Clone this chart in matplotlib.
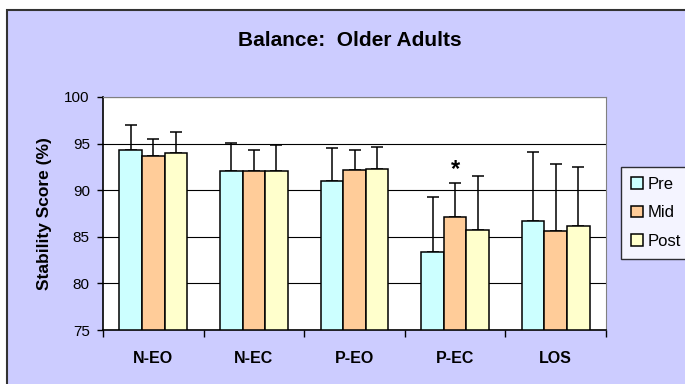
import matplotlib
matplotlib.use("Agg")
import matplotlib.pyplot as plt
import numpy as np
from matplotlib.patches import Rectangle

categories = ["N-EO", "N-EC", "P-EO", "P-EC", "LOS"]
series = ["Pre", "Mid", "Post"]
pre = [94.3, 92.05, 90.97, 83.4, 86.65]
mid = [93.7, 92.05, 92.2, 87.1, 85.6]
post = [94.0, 92.05, 92.3, 85.75, 86.2]
pre_err = [2.7, 3.05, 3.6, 5.9, 7.45]
mid_err = [1.8, 2.25, 2.1, 3.7, 7.2]
post_err = [2.2, 2.75, 2.3, 5.75, 6.3]
colors = ["#CCFFFF", "#FFCC99", "#FFFFCC"]
yticks = [75, 80, 85, 90, 95, 100]

plt.rcParams['font.family'] = ['Liberation Sans', 'DejaVu Sans']

fig = plt.figure(figsize=(6.85, 3.84), dpi=100)
fig.patch.set_facecolor("white")
frame = Rectangle((7/685, -0.05), 1.2, 1 - 10/384 + 0.05, transform=fig.transFigure,
                  facecolor="#CCCCFF", edgecolor="#333333", lw=1.5, zorder=-10)
fig.patches.append(frame)

ax = fig.add_axes([103/685, 1-330/384, (606-103)/685, (330-97)/384])
ax.set_zorder(1)
ax.set_facecolor("white")

x = np.arange(len(categories))
w = 0.224
vals = [pre, mid, post]
errs = [pre_err, mid_err, post_err]
for i, (v, e) in enumerate(zip(vals, errs)):
    pos = x + (i-1)*w
    ax.bar(pos, np.array(v)-75, bottom=75, width=w, color=colors[i], edgecolor="black",
           lw=1.1, label=series[i], zorder=3)
    ax.errorbar(pos, v, yerr=[np.zeros(len(e)), e], fmt="none", ecolor="black",
                elinewidth=1.1, capsize=4.5, capthick=1.1, zorder=2)

ax.text(3, 91.0, "*", ha="center", va="bottom", fontsize=17, fontweight="bold")

ax.set_ylim(75, 100)
ax.set_xlim(-0.5, 4.5)
ax.set_yticks(yticks)
ax.set_yticklabels([str(t) for t in yticks], fontsize=11)
ax.set_xticks(np.arange(-0.5, 5, 1))
ax.set_xticklabels([])
ax.set_xticks(x, minor=True)
ax.set_xticklabels(categories, minor=True, fontsize=11.5, fontweight="bold")
ax.tick_params(axis="x", which="minor", length=0, pad=15)
ax.tick_params(axis="x", which="major", length=5, direction="out", width=1)
ax.tick_params(axis="y", length=4.5, direction="out", width=1, pad=5)
ax.grid(axis="y", color="black", lw=0.8, zorder=1)
ax.set_axisbelow(True)
for s in ["top", "right"]:
    ax.spines[s].set_color("#808080")
for s in ["left", "bottom"]:
    ax.spines[s].set_color("black")
    ax.spines[s].set_linewidth(1.2)
ax.set_ylabel("Stability Score (%)", fontsize=12.5, fontweight="bold", labelpad=9)

fig.text(350/685, 1-40/384, "Balance:  Older Adults", ha="center", va="center",
         fontsize=15, fontweight="bold")

leg = ax.legend(loc="upper left", bbox_to_anchor=(621/685, 1-167/384), bbox_transform=fig.transFigure,
                fontsize=12, frameon=True, fancybox=False, shadow=False,
                handlelength=0.7, handleheight=0.7, handletextpad=0.3, labelspacing=0.8,
                borderpad=0.6, borderaxespad=0)
leg.get_frame().set_edgecolor("black")
leg.get_frame().set_linewidth(1)

fig.savefig("out.png", dpi=100, facecolor=fig.get_facecolor())
